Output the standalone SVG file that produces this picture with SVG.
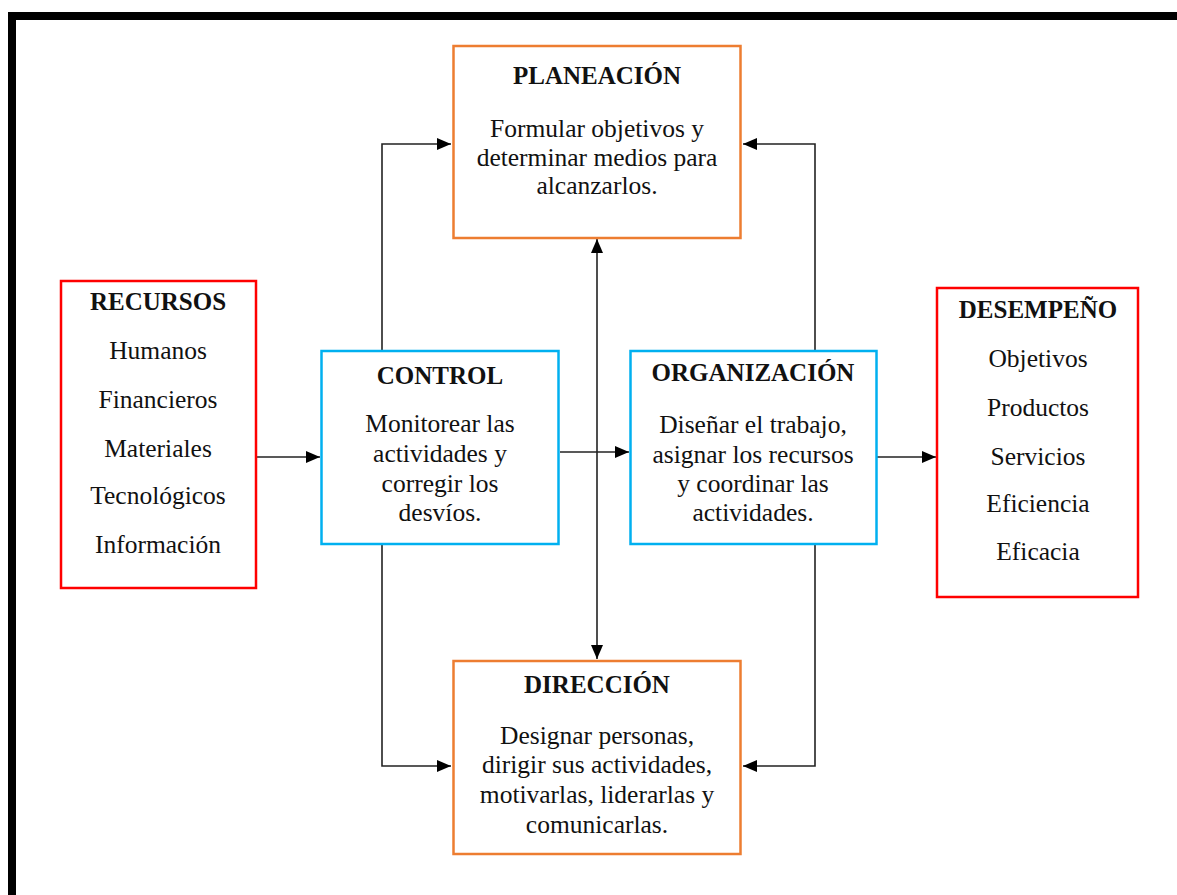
<svg xmlns="http://www.w3.org/2000/svg" width="1177" height="895" viewBox="0 0 1177 895">
<style>
text{font-family:"Liberation Serif","Times New Roman",serif;font-size:25.5px;fill:#111;text-anchor:middle}
.t{font-weight:bold;font-size:25px}
.orange{fill:#fff;stroke:#ED7D31;stroke-width:2.5}
.blue{fill:#fff;stroke:#00B0F0;stroke-width:2.5}
.red{fill:#fff;stroke:#FF0000;stroke-width:2.5}
.c{fill:none;stroke:#222;stroke-width:1.6}
</style>
<defs>
<marker id="ah" markerUnits="userSpaceOnUse" markerWidth="14" markerHeight="12" viewBox="0 0 14 12" refX="14" refY="6" orient="auto-start-reverse">
<path d="M0,0 L14,6 L0,12 z" fill="#000"/>
</marker>
</defs>
<rect x="0" y="0" width="1177" height="895" fill="#fff"/>
<rect x="12" y="16" width="1300" height="1000" fill="none" stroke="#000" stroke-width="8"/>
<g id="connectors">
<polyline class="c" points="382,350 382,144 451,144" marker-end="url(#ah)"/>
<polyline class="c" points="815,350 815,144 743,144" marker-end="url(#ah)"/>
<line class="c" x1="597" y1="659" x2="597" y2="239" marker-start="url(#ah)" marker-end="url(#ah)"/>
<polyline class="c" points="382,545 382,766 451,766" marker-end="url(#ah)"/>
<polyline class="c" points="815,545 815,766 743,766" marker-end="url(#ah)"/>
<line class="c" x1="257" y1="457" x2="320" y2="457" marker-end="url(#ah)"/>
<line class="c" x1="560" y1="452" x2="629" y2="452" marker-end="url(#ah)"/>
<line class="c" x1="877" y1="457" x2="936" y2="457" marker-end="url(#ah)"/>
</g>
<g id="planeacion">
<rect class="orange" x="453.5" y="46" width="287" height="192"/>
<text class="t" x="597" y="84">PLANEACIÓN</text>
<text x="597" y="137">Formular objetivos y</text>
<text x="597" y="166">determinar medios para</text>
<text x="597" y="194">alcanzarlos.</text>
</g>
<g id="recursos">
<rect class="red" x="61" y="281" width="195" height="307"/>
<text class="t" x="158" y="310">RECURSOS</text>
<text x="158" y="359">Humanos</text>
<text x="158" y="408">Financieros</text>
<text x="158" y="457">Materiales</text>
<text x="158" y="504">Tecnológicos</text>
<text x="158" y="553">Información</text>
</g>
<g id="control">
<rect class="blue" x="321.5" y="351" width="237" height="193"/>
<text class="t" x="440" y="384">CONTROL</text>
<text x="440" y="432">Monitorear las</text>
<text x="440" y="462">actividades y</text>
<text x="440" y="492">corregir los</text>
<text x="440" y="521">desvíos.</text>
</g>
<g id="organizacion">
<rect class="blue" x="630.5" y="351" width="246" height="193"/>
<text class="t" x="753" y="381">ORGANIZACIÓN</text>
<text x="753" y="433">Diseñar el trabajo,</text>
<text x="753" y="463">asignar los recursos</text>
<text x="753" y="492">y coordinar las</text>
<text x="753" y="521">actividades.</text>
</g>
<g id="desempeno">
<rect class="red" x="937" y="288" width="201" height="309"/>
<text class="t" x="1038" y="318">DESEMPEÑO</text>
<text x="1038" y="367">Objetivos</text>
<text x="1038" y="416">Productos</text>
<text x="1038" y="465">Servicios</text>
<text x="1038" y="512">Eficiencia</text>
<text x="1038" y="560">Eficacia</text>
</g>
<g id="direccion">
<rect class="orange" x="453.5" y="661" width="287" height="193"/>
<text class="t" x="597" y="693">DIRECCIÓN</text>
<text x="597" y="744">Designar personas,</text>
<text x="597" y="773">dirigir sus actividades,</text>
<text x="597" y="803">motivarlas, liderarlas y</text>
<text x="597" y="833">comunicarlas.</text>
</g>
</svg>
